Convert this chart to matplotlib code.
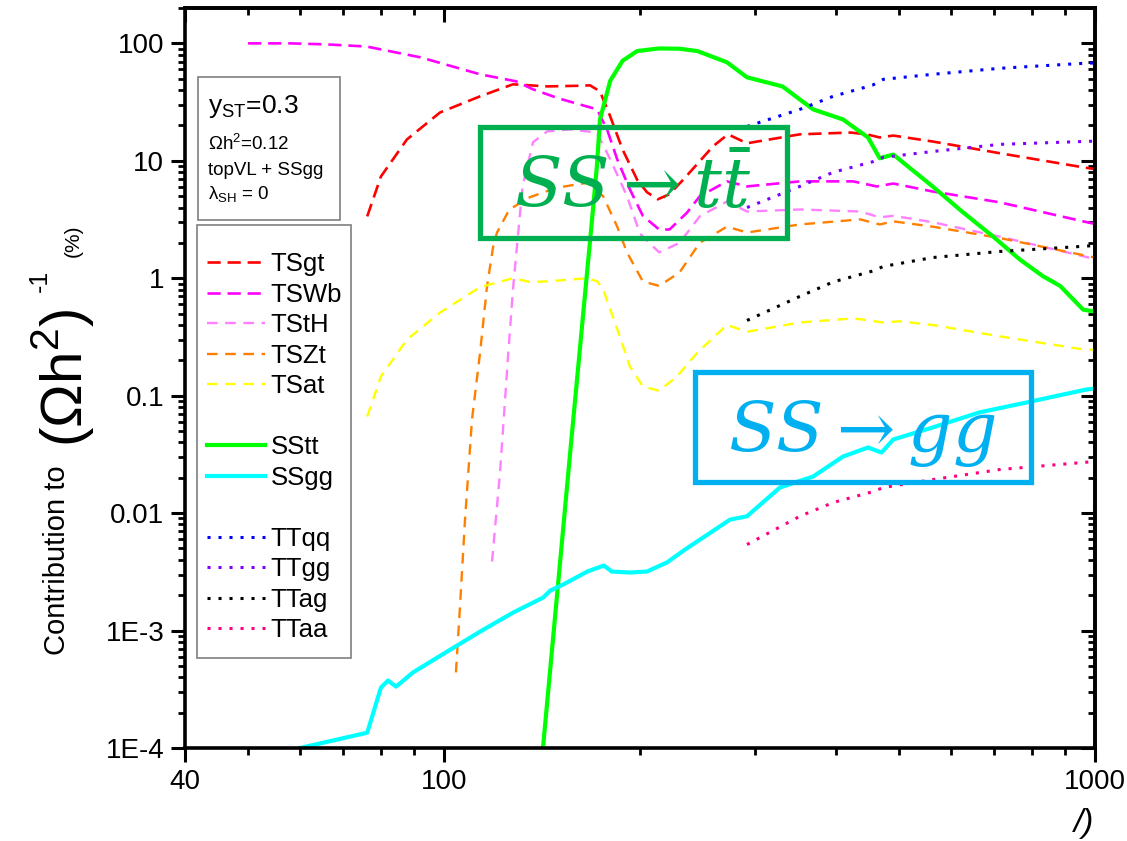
import matplotlib
matplotlib.use("Agg")
import matplotlib.pyplot as plt
from matplotlib.lines import Line2D
from matplotlib.patches import Rectangle
from matplotlib.ticker import FixedLocator, NullFormatter, FixedFormatter, LogLocator

plt.rcParams['font.family'] = ['Liberation Sans', 'DejaVu Sans']

# ---- data: contribution to (Omega h^2)^-1 in percent vs mass ----
tsgt_x = [76.2, 80, 87.7, 98.6, 113.6, 127.6, 144, 160, 167.6, 173.6, 180, 188, 198, 205, 213, 222,
          233, 259, 273, 292, 352, 421, 446, 467, 490, 563, 714, 959, 1000]
tsgt_y = [3.36, 7.36, 15.2, 25.8, 35.4, 44.8, 43, 43.5, 43.9, 39, 23.9, 12.5, 6.9, 5.4, 4.7, 5.2,
          6.9, 13.3, 16.8, 14.1, 16.8, 17.4, 16.8, 15.8, 16.4, 14.6, 11.6, 8.8, 8.5]

tswb_x = [50, 58, 66, 76, 92, 113.6, 129, 137, 150, 161.6, 171.8, 178, 184.5, 193, 202, 214, 222,
          236, 247, 272, 292, 352, 425, 462, 490, 563, 714, 959, 1000]
tswb_y = [100, 100, 98, 94, 76, 54.5, 47.5, 40.6, 34, 30.2, 27.4, 18.5, 10.3, 5.7, 3.4, 2.6, 2.6,
          3.6, 4.98, 6.68, 6.05, 6.68, 6.68, 6.05, 6.4, 5.48, 4.43, 3.05, 2.9]

tsth_x = [118.5, 121.9, 125.4, 127.6, 132, 137, 144, 156, 171.7, 180, 191, 200, 214, 230, 247,
          272, 292, 352, 436, 467, 490, 563, 714, 959, 1000]
tsth_y = [0.00387, 0.0222, 0.216, 0.80, 6.05, 14.4, 17.8, 18.5, 17.4, 10.3, 5.0, 2.4, 1.66, 2.0,
          3.36, 4.5, 3.7, 3.85, 3.7, 3.3, 3.4, 3.0, 2.26, 1.54, 1.45]

tszt_x = [104.3, 105.8, 107.7, 110.4, 113.6, 116.4, 119, 120.6, 126, 135.5, 149, 166, 175.6,
          184.5, 191, 202, 214, 230, 247, 272, 292, 352, 436, 467, 490, 563, 714, 1000]
tszt_y = [4.4e-4, 1.6e-3, 8.8e-3, 0.063, 0.233, 0.85, 1.87, 2.45, 3.85, 4.9, 5.9, 6.5, 4.98,
          2.75, 1.66, 0.94, 0.86, 1.12, 2.0, 2.75, 2.45, 2.87, 3.17, 2.87, 3.05, 2.75, 2.2, 1.5]

tsat_x = [76.2, 80, 87.7, 98.6, 113.6, 127.6, 135.5, 144, 166, 172, 175.6, 184.5, 193, 202, 214,
          228, 245, 272, 292, 352, 425, 446, 472, 501, 563, 714, 949, 1000]
tsat_y = [0.0665, 0.146, 0.30, 0.51, 0.84, 1.0, 0.93, 0.94, 1.0, 0.94, 0.8, 0.37, 0.177, 0.12,
          0.11, 0.146, 0.233, 0.40, 0.35, 0.42, 0.455, 0.44, 0.42, 0.43, 0.40, 0.32, 0.25, 0.245]

sstt_x = [141.9, 156, 168.8, 171.7, 173.6, 180, 188, 198, 214, 230, 245, 272, 292, 331, 369, 410,
          448, 467, 490, 563, 627, 697, 767, 832, 884, 959, 1000]
sstt_y = [1e-4, 0.03, 3.17, 8.96, 22.5, 48, 71, 86, 90.5, 90, 86, 69, 51.4, 43, 27.4, 22.5,
          15.8, 10.5, 11.3, 6.05, 3.64, 2.27, 1.44, 1.04, 0.86, 0.54, 0.52]

ssgg_x = [60.1, 76.2, 80, 82, 84.4, 89.6, 101, 113.6, 127.6, 142, 145.6, 152.5, 166, 176, 181,
          193, 205, 220, 234.6, 275, 292, 328, 369, 410, 448, 470, 490, 563, 664, 785, 862, 971, 1000]
ssgg_y = [1e-4, 1.35e-4, 3.27e-4, 3.75e-4, 3.33e-4, 4.4e-4, 6.6e-4, 9.8e-4, 1.42e-3, 1.91e-3,
          2.19e-3, 2.47e-3, 3.18e-3, 3.58e-3, 3.18e-3, 3.12e-3, 3.18e-3, 3.8e-3, 4.9e-3, 8.8e-3,
          9.4e-3, 0.0165, 0.0205, 0.0303, 0.0362, 0.0328, 0.0424, 0.0536, 0.072, 0.0875, 0.098,
          0.113, 0.115]

tt_x = [292, 352, 396, 455, 473, 563, 714, 959, 1000]
ttqq_y = [19.6, 27.4, 35.4, 44, 49.4, 54.5, 61.3, 67.6, 68]
ttgg_y = [4.0, 6.05, 7.98, 9.8, 10.7, 12.0, 13.8, 14.6, 14.7]
ttag_y = [0.437, 0.70, 0.93, 1.15, 1.26, 1.5, 1.69, 1.87, 1.9]
ttaa_y = [5.4e-3, 9.4e-3, 0.0123, 0.0152, 0.0165, 0.0193, 0.0235, 0.027, 0.0275]

x_major = [40, 100, 1000]
x_major_labels = ["40", "100", "1000"]
x_minor = [50, 60, 70, 80, 90, 200, 300, 400, 500, 600, 700, 800, 900]
y_major = [1e-4, 1e-3, 1e-2, 1e-1, 1, 10, 100]
y_major_labels = ["1E-4", "1E-3", "0.01", "0.1", "1", "10", "100"]

W, H = 1127, 841
fig = plt.figure(figsize=(W / 100, H / 100), dpi=100)


def fx(px):
    return px / W


def fy(py):
    return 1 - py / H


ax = fig.add_axes([fx(185), fy(748), fx(1095) - fx(185), fy(8) - fy(748)])
ax.set_xscale('log')
ax.set_yscale('log')
ax.set_xlim(40, 1000)
ax.set_ylim(1e-4, 200)

dash_a = (0, (5, 2.6))
dash_b = (0, (4.5, 3.2))
dot = (0, (1, 2.6))

lines = {}
lines['TSgt'], = ax.plot(tsgt_x, tsgt_y, color='#FF0000', lw=1.9, ls=dash_a)
lines['TSWb'], = ax.plot(tswb_x, tswb_y, color='#FF00FF', lw=1.9, ls=dash_a)
lines['TStH'], = ax.plot(tsth_x, tsth_y, color='#FF80FF', lw=1.7, ls=dash_b)
lines['TSZt'], = ax.plot(tszt_x, tszt_y, color='#FF8000', lw=1.7, ls=dash_b)
lines['TSat'], = ax.plot(tsat_x, tsat_y, color='#FFFF00', lw=1.7, ls=dash_b)
lines['SStt'], = ax.plot(sstt_x, sstt_y, color='#00FF00', lw=3.0, ls='-')
lines['SSgg'], = ax.plot(ssgg_x, ssgg_y, color='#00FFFF', lw=3.0, ls='-')
lines['TTqq'], = ax.plot(tt_x, ttqq_y, color='#0000FF', lw=2.2, ls=dot)
lines['TTgg'], = ax.plot(tt_x, ttgg_y, color='#8000FF', lw=2.2, ls=dot)
lines['TTag'], = ax.plot(tt_x, ttag_y, color='#000000', lw=2.2, ls=dot)
lines['TTaa'], = ax.plot(tt_x, ttaa_y, color='#FF0080', lw=2.2, ls=dot)

# ---- axes styling: outward ticks bottom/left, inward mirrors top/right ----
for sp in ax.spines.values():
    sp.set_linewidth(2.6)
ax.xaxis.set_major_locator(FixedLocator(x_major))
ax.xaxis.set_major_formatter(FixedFormatter(x_major_labels))
ax.xaxis.set_minor_locator(FixedLocator(x_minor))
ax.xaxis.set_minor_formatter(NullFormatter())
ax.yaxis.set_major_locator(FixedLocator(y_major))
ax.yaxis.set_major_formatter(FixedFormatter(y_major_labels))
ax.yaxis.set_minor_locator(LogLocator(base=10, subs=range(2, 10), numticks=20))
ax.yaxis.set_minor_formatter(NullFormatter())
ax.tick_params(which='major', direction='out', length=10, width=2.2, labelsize=20, pad=5,
               top=False, right=False)
ax.tick_params(which='minor', direction='out', length=5, width=2.0, top=False, right=False)

sx = ax.secondary_xaxis('top')
sx.xaxis.set_major_locator(FixedLocator(x_major))
sx.xaxis.set_minor_locator(FixedLocator(x_minor))
sx.tick_params(which='major', direction='in', length=10, width=2.2, labeltop=False)
sx.tick_params(which='minor', direction='in', length=5, width=2.0, labeltop=False)
sx.xaxis.set_minor_formatter(NullFormatter())
sx.spines['top'].set_linewidth(2.6)

sy = ax.secondary_yaxis('right')
sy.yaxis.set_major_locator(FixedLocator(y_major))
sy.yaxis.set_minor_locator(LogLocator(base=10, subs=range(2, 10), numticks=20))
sy.tick_params(which='major', direction='in', length=10, width=2.2, labelright=False)
sy.tick_params(which='minor', direction='in', length=5, width=2.0, labelright=False)
sy.yaxis.set_minor_formatter(NullFormatter())
sy.spines['right'].set_linewidth(2.6)

# ---- y-axis label built from pieces of different sizes ----
fig.text(fx(57), fy(560), "Contribution to", rotation=90, ha='center', va='center', fontsize=21)
fig.text(fx(63), fy(378), "(Ωh$^\\mathregular{2}$)", rotation=90, ha='center', va='center',
         fontsize=42)
fig.text(fx(40), fy(281), "-1", rotation=90, ha='center', va='center', fontsize=18)
fig.text(fx(73), fy(241), "(%)", rotation=90, ha='center', va='center', fontsize=15)

# tail of the x-axis label
fig.text(fx(1084), fy(808), "/)", ha='center', va='top', fontsize=24, style='italic')

# ---- parameter box ----
fig.patches.append(Rectangle((fx(198), fy(220)), fx(340) - fx(198), fy(77) - fy(220),
                             transform=fig.transFigure, fill=False, edgecolor='#7f7f7f', lw=1.2,
                             figure=fig))
fig.text(fx(208), fy(113), "y$_\\mathregular{ST}$=0.3", fontsize=19, va='baseline')
fig.text(fx(208), fy(150), "Ωh$^\\mathregular{2}$=0.12", fontsize=13.5, va='baseline')
fig.text(fx(208), fy(175), "topVL + SSgg", fontsize=13.5, va='baseline')
fig.text(fx(208), fy(200), "λ$_\\mathregular{SH}$ = 0", fontsize=13.5, va='baseline')

# ---- legend with spacer rows between groups, inside its own frame ----
fig.patches.append(Rectangle((fx(197), fy(658)), fx(351) - fx(197), fy(225) - fy(658),
                             transform=fig.transFigure, fill=False,
                             edgecolor='#7f7f7f', lw=1.2, figure=fig))
blank = Line2D([], [], color='none')
order = ['TSgt', 'TSWb', 'TStH', 'TSZt', 'TSat', None, 'SStt', 'SSgg', None,
         'TTqq', 'TTgg', 'TTag', 'TTaa']
handles = [lines[k] if k else blank for k in order]
labels = [k if k else ' ' for k in order]
leg = ax.legend(handles, labels, loc='upper left',
                bbox_to_anchor=(fx(207), fy(252)), bbox_transform=fig.transFigure,
                borderaxespad=0, borderpad=0, fontsize=18.5, frameon=False,
                handlelength=2.25, handletextpad=0.23, labelspacing=0.253)

# ---- process annotations ----
box_g = Rectangle((fx(480), fy(238)), fx(787) - fx(480), fy(127) - fy(238),
                  transform=fig.transFigure, fill=False, edgecolor='#00B050', lw=3.8,
                  figure=fig, zorder=5)
fig.patches.append(box_g)
fig.text(fx(633), fy(208), r"$SS\rightarrow t\bar{t}$", math_fontfamily='dejavuserif',
         fontsize=50, color='#00B050', ha='center', va='baseline')

box_c = Rectangle((fx(695), fy(482)), fx(1031) - fx(695), fy(372) - fy(482),
                  transform=fig.transFigure, fill=False, edgecolor='#00B0F0', lw=3.8,
                  figure=fig, zorder=5)
fig.patches.append(box_c)
fig.text(fx(862), fy(452), r"$SS\rightarrow gg$", math_fontfamily='dejavuserif',
         fontsize=50, color='#00B0F0', ha='center', va='baseline')

fig.savefig("out.png", dpi=100)
